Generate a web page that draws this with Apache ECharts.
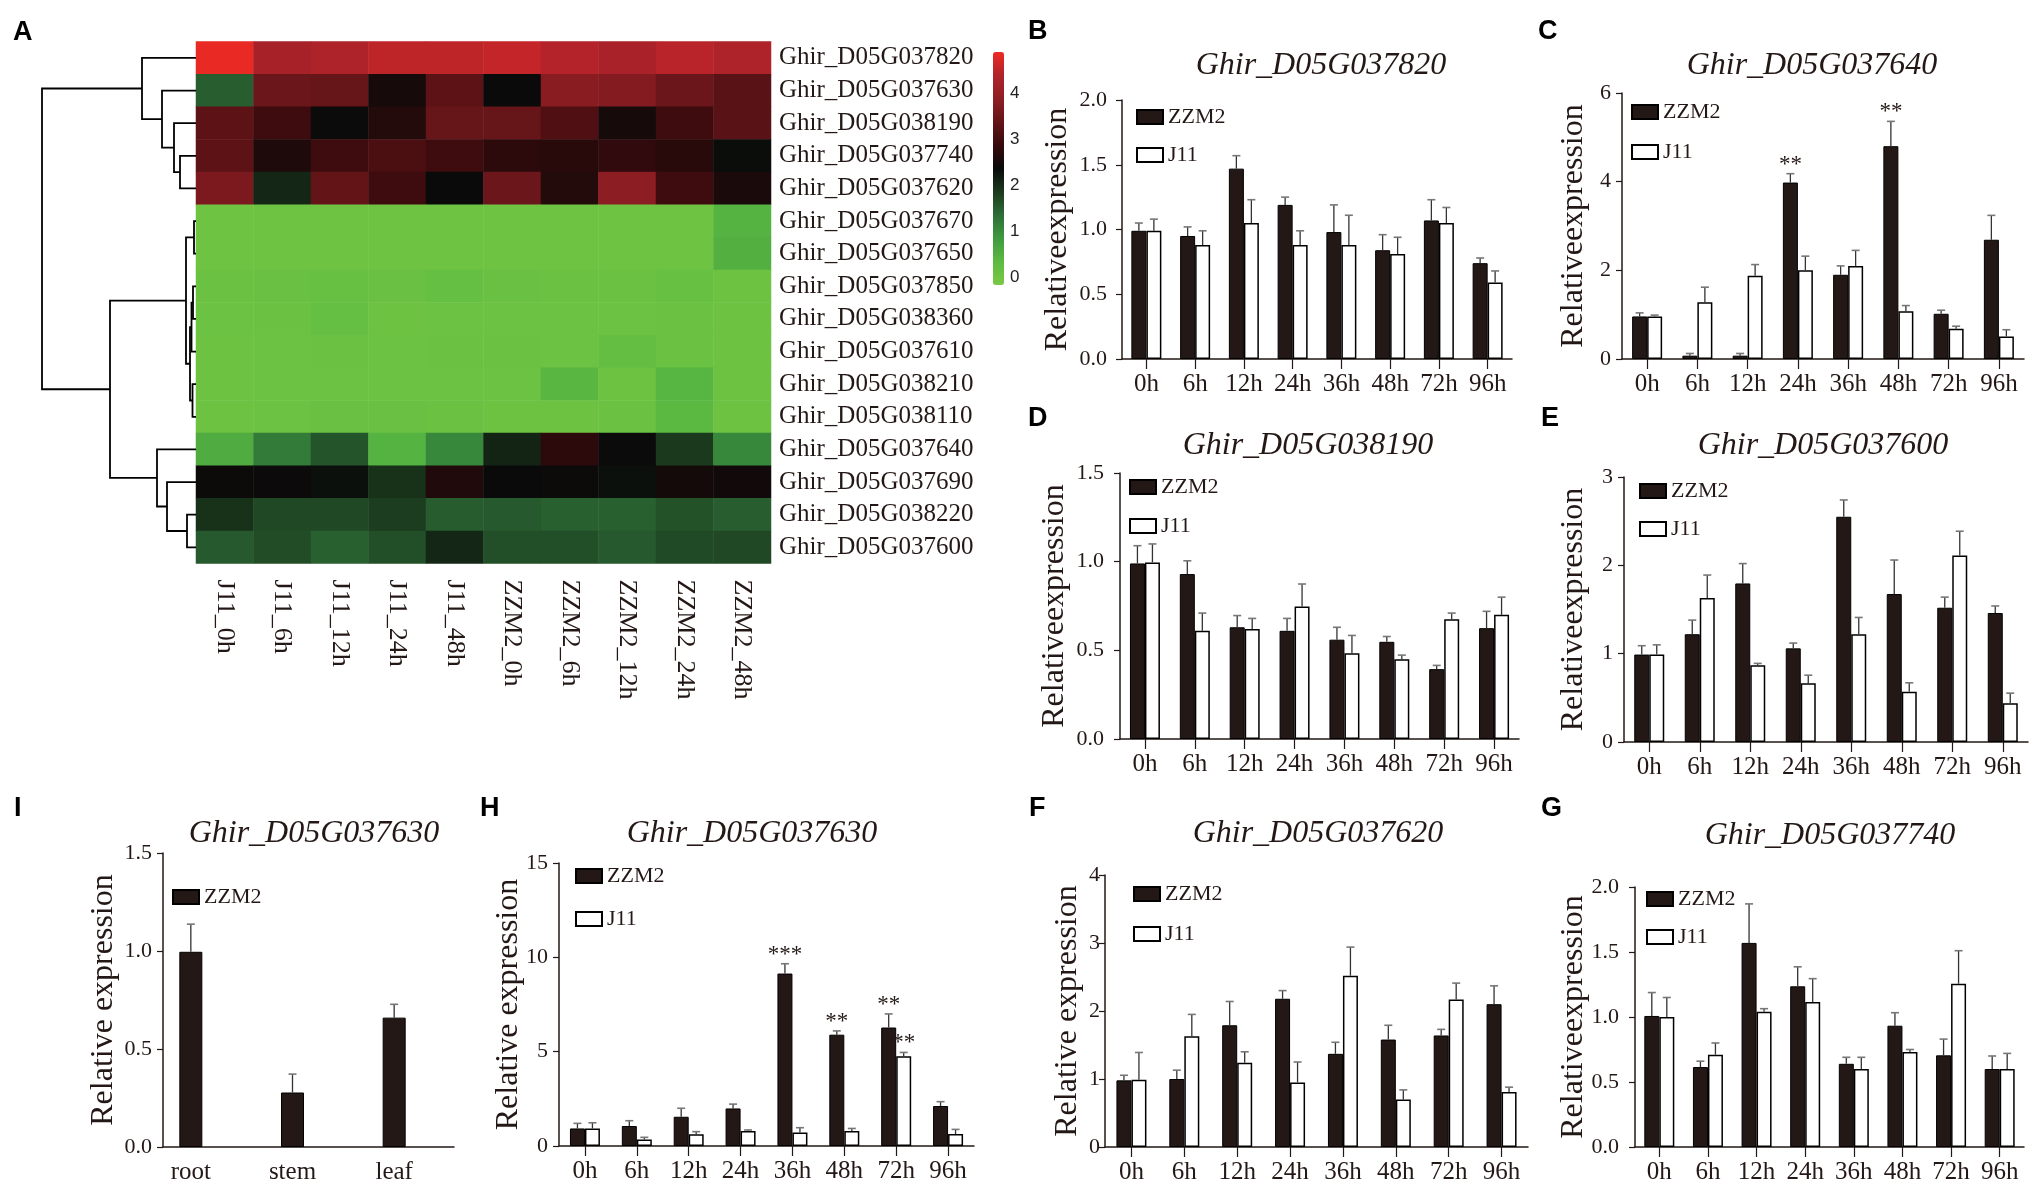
<!DOCTYPE html>
<html>
<head>
<meta charset="utf-8">
<script src="https://cdn.jsdelivr.net/npm/echarts@6/dist/echarts.min.js"></script>
<style>
  html, body { margin: 0; padding: 0; background: #fff; }
  #main { width: 2033px; height: 1187px; }
</style>
</head>
<body>
<div id="main"></div>
<script>
var SERIF = '"Liberation Serif", "Times New Roman", serif';
var SANS = '"Liberation Sans", Arial, sans-serif';
var INK = '#231815';

// ---- heatmap (A) ----
var geneRows = ['Ghir_D05G037820', 'Ghir_D05G037630', 'Ghir_D05G038190', 'Ghir_D05G037740',
  'Ghir_D05G037620', 'Ghir_D05G037670', 'Ghir_D05G037650', 'Ghir_D05G037850',
  'Ghir_D05G038360', 'Ghir_D05G037610', 'Ghir_D05G038210', 'Ghir_D05G038110',
  'Ghir_D05G037640', 'Ghir_D05G037690', 'Ghir_D05G038220', 'Ghir_D05G037600'];
var sampleCols = ['J11_0h', 'J11_6h', 'J11_12h', 'J11_24h', 'J11_48h',
  'ZZM2_0h', 'ZZM2_6h', 'ZZM2_12h', 'ZZM2_24h', 'ZZM2_48h'];
var heatRows = [
  [4.85, 4.25, 4.35, 4.5, 4.5, 4.55, 4.42, 4.3, 4.45, 4.35],
  [1.5, 3.45, 3.4, 2.5, 3.3, 2.36, 3.8, 3.75, 3.45, 3.25],
  [3.3, 2.95, 2.35, 2.65, 3.4, 3.4, 3.15, 2.5, 2.95, 3.25],
  [3.3, 2.6, 2.95, 3.1, 2.95, 2.75, 2.7, 2.8, 2.7, 2.33],
  [3.65, 2.05, 3.35, 2.95, 2.36, 3.45, 2.65, 3.85, 2.95, 2.55],
  [0.02, 0.03, 0.03, 0.02, 0.02, 0.02, 0.03, 0.03, 0.04, 0.45],
  [0.02, 0.03, 0.02, 0.02, 0.03, 0.02, 0.02, 0.02, 0.04, 0.5],
  [0.08, 0.12, 0.15, 0.12, 0.18, 0.12, 0.08, 0.08, 0.15, 0.05],
  [0.06, 0.08, 0.18, 0.05, 0.06, 0.06, 0.06, 0.06, 0.08, 0.05],
  [0.05, 0.06, 0.08, 0.06, 0.08, 0.08, 0.06, 0.2, 0.08, 0.05],
  [0.05, 0.06, 0.06, 0.06, 0.06, 0.06, 0.4, 0.05, 0.42, 0.05],
  [0.05, 0.06, 0.12, 0.12, 0.1, 0.05, 0.05, 0.08, 0.35, 0.05],
  [0.55, 1.2, 1.6, 0.45, 1.05, 2.1, 2.75, 2.35, 1.85, 1.05],
  [2.4, 2.38, 2.3, 1.95, 2.62, 2.36, 2.4, 2.3, 2.48, 2.45],
  [1.95, 1.72, 1.72, 1.82, 1.52, 1.55, 1.48, 1.48, 1.62, 1.5],
  [1.55, 1.68, 1.48, 1.65, 2.05, 1.65, 1.65, 1.55, 1.7, 1.72]
];
var colorTicks = [0, 1, 2, 3, 4];
// row clustering: [childA, childB, height]; 0-15 are rows, 16+ are earlier merges
var dendroMerges = [
  [3, 4, 16], [2, 16, 22], [1, 17, 34], [0, 18, 54],
  [5, 6, 2], [7, 8, 3], [10, 11, 3.5], [21, 9, 4.5], [23, 22, 6], [20, 24, 10],
  [14, 15, 9], [13, 26, 29], [12, 27, 39],
  [25, 28, 86], [19, 29, 154]
];

// ---- qRT-PCR panels ----
var hours = ['0h', '6h', '12h', '24h', '36h', '48h', '72h', '96h'];
var tissues = ['root', 'stem', 'leaf'];

var bZzm2 = [0.99, 0.95, 1.47, 1.19, 0.98, 0.84, 1.07, 0.74];
var bZzm2Sd = [0.06, 0.07, 0.1, 0.06, 0.21, 0.12, 0.16, 0.04];
var bJ11 = [0.99, 0.88, 1.05, 0.88, 0.88, 0.81, 1.05, 0.59];
var bJ11Sd = [0.09, 0.11, 0.18, 0.11, 0.23, 0.13, 0.12, 0.09];

var cZzm2 = [0.96, 0.075, 0.075, 3.98, 1.9, 4.8, 1.02, 2.69];
var cZzm2Sd = [0.08, 0.05, 0.05, 0.2, 0.2, 0.56, 0.08, 0.55];
var cZzm2Sig = ['', '', '', '**', '', '**', '', ''];
var cJ11 = [0.96, 1.28, 1.88, 2.0, 2.1, 1.075, 0.68, 0.51];
var cJ11Sd = [0.03, 0.34, 0.25, 0.32, 0.35, 0.13, 0.06, 0.15];

var dZzm2 = [0.99, 0.93, 0.63, 0.61, 0.56, 0.548, 0.394, 0.625];
var dZzm2Sd = [0.1, 0.075, 0.066, 0.07, 0.07, 0.03, 0.021, 0.095];
var dJ11 = [0.996, 0.61, 0.62, 0.747, 0.484, 0.45, 0.675, 0.7];
var dJ11Sd = [0.104, 0.1, 0.06, 0.127, 0.1, 0.023, 0.035, 0.1];

var eZzm2 = [0.99, 1.22, 1.795, 1.06, 2.55, 1.675, 1.52, 1.46];
var eZzm2Sd = [0.1, 0.16, 0.225, 0.06, 0.19, 0.385, 0.12, 0.08];
var eJ11 = [0.99, 1.63, 0.87, 0.666, 1.22, 0.57, 2.11, 0.44];
var eJ11Sd = [0.11, 0.26, 0.02, 0.09, 0.19, 0.1, 0.276, 0.113];

var iZzm2 = [0.996, 0.278, 0.66];
var iZzm2Sd = [0.141, 0.094, 0.068];

var hZzm2 = [0.93, 1.06, 1.55, 1.99, 9.14, 5.9, 6.28, 2.12];
var hZzm2Sd = [0.27, 0.28, 0.45, 0.23, 0.52, 0.2, 0.72, 0.23];
var hZzm2Sig = ['', '', '', '', '***', '**', '**', ''];
var hJ11 = [0.93, 0.35, 0.62, 0.79, 0.72, 0.79, 4.76, 0.63];
var hJ11Sd = [0.3, 0.11, 0.14, 0.06, 0.25, 0.14, 0.2, 0.25];
var hJ11Sig = ['', '', '', '', '', '', '**', ''];

var fZzm2 = [0.98, 1.0, 1.79, 2.18, 1.37, 1.58, 1.64, 2.1];
var fZzm2Sd = [0.075, 0.13, 0.35, 0.12, 0.17, 0.21, 0.09, 0.27];
var fJ11 = [0.99, 1.63, 1.24, 0.95, 2.52, 0.7, 2.17, 0.81];
var fJ11Sd = [0.4, 0.32, 0.16, 0.3, 0.42, 0.14, 0.24, 0.07];

var gZzm2 = [1.008, 0.615, 1.57, 1.236, 0.64, 0.933, 0.705, 0.6];
var gZzm2Sd = [0.18, 0.045, 0.3, 0.15, 0.05, 0.1, 0.125, 0.1];
var gJ11 = [1.0, 0.71, 1.04, 1.115, 0.6, 0.73, 1.256, 0.6];
var gJ11Sd = [0.15, 0.09, 0.024, 0.18, 0.09, 0.02, 0.254, 0.12];

var grids = [], xAxes = [], yAxes = [], series = [], legends = [], titles = [];

function letter(t, x, y) {
  titles.push({ text: t, left: x, top: y, padding: 0,
    textStyle: { fontFamily: SANS, fontWeight: 'bold', fontSize: 27, color: '#000' } });
}
function geneTitle(t, cx, y) {
  titles.push({ text: t, left: cx, top: y, padding: 0, textAlign: 'center',
    textStyle: { fontFamily: SERIF, fontStyle: 'italic', fontWeight: 'normal', fontSize: 32, color: INK } });
}

// heatmap grid
var heatData = [];
heatRows.forEach(function (row, r) {
  row.forEach(function (v, c) { heatData.push([c, r, v]); });
});
grids.push({ left: 196, top: 41.6, width: 575, height: 522, outerBoundsMode: 'none' });
xAxes.push({ gridIndex: 0, type: 'category', data: sampleCols,
  axisLine: { show: false }, axisTick: { show: false },
  axisLabel: { rotate: -90, interval: 0, margin: 16, fontFamily: SERIF, fontSize: 26, color: INK } });
yAxes.push({ gridIndex: 0, type: 'category', data: geneRows, inverse: true, position: 'right',
  axisLine: { show: false }, axisTick: { show: false },
  axisLabel: { interval: 0, margin: 8, fontFamily: SERIF, fontSize: 25, color: INK } });
series.push({ type: 'heatmap', xAxisIndex: 0, yAxisIndex: 0, data: heatData, silent: true,
  itemStyle: { borderWidth: 0 } });

// dendrogram grid
var nodeY = [], nodeH = [];
geneRows.forEach(function (g, i) { nodeY[i] = i; nodeH[i] = 0; });
var dendroData = dendroMerges.map(function (m, k) {
  var id = geneRows.length + k;
  nodeY[id] = (nodeY[m[0]] + nodeY[m[1]]) / 2;
  nodeH[id] = m[2];
  return [nodeH[m[0]], nodeY[m[0]], nodeH[m[1]], nodeY[m[1]], m[2]];
});
grids.push({ left: 42, top: 41.6, width: 154, height: 522, outerBoundsMode: 'none' });
xAxes.push({ gridIndex: 1, type: 'value', min: 0, max: 154, inverse: true, show: false });
yAxes.push({ gridIndex: 1, type: 'value', min: -0.5, max: geneRows.length - 0.5, inverse: true, show: false });
series.push({ type: 'custom', xAxisIndex: 1, yAxisIndex: 1, data: dendroData, silent: true,
  encode: { x: [0, 2, 4], y: [1, 3] },
  renderItem: function (p, api) {
    var a = api.coord([api.value(0), api.value(1)]);
    var am = api.coord([api.value(4), api.value(1)]);
    var bm = api.coord([api.value(4), api.value(3)]);
    var b = api.coord([api.value(2), api.value(3)]);
    return { type: 'polyline', shape: { points: [a, am, bm, b] },
      style: { stroke: '#000', lineWidth: 1.8, fill: null } };
  } });

// colour bar tick labels
grids.push({ left: 993, top: 52, width: 11, height: 225, outerBoundsMode: 'none' });
xAxes.push({ gridIndex: 2, type: 'value', show: false });
yAxes.push({ gridIndex: 2, type: 'value', position: 'right', min: colorTicks[0], max: 4.89, interval: 1,
  axisLine: { show: false }, axisTick: { show: false }, splitLine: { show: false },
  axisLabel: { margin: 6, fontFamily: SANS, fontSize: 17, color: '#222', showMaxLabel: false,
    formatter: function (v) { return colorTicks.indexOf(v) >= 0 ? String(v) : ''; } } });

letter('A', 13, 19);

function errSeries(gi, mean, sd, sig, dx) {
  series.push({ type: 'custom', xAxisIndex: gi, yAxisIndex: gi, silent: true, z: 4,
    data: mean.map(function (m, i) { return [i, m, m + sd[i]]; }),
    encode: { x: 0, y: [1, 2] },
    renderItem: function (p, api) {
      var base = api.coord([api.value(0), api.value(1)]);
      var top = api.coord([api.value(0), api.value(2)]);
      var x = base[0] + dx;
      var kids = [
        { type: 'line', shape: { x1: x, y1: base[1], x2: x, y2: top[1] },
          style: { stroke: '#333', lineWidth: 1.3 } },
        { type: 'line', shape: { x1: x - 4, y1: top[1], x2: x + 4, y2: top[1] },
          style: { stroke: '#777', lineWidth: 1.6 } }
      ];
      var s = sig ? sig[p.dataIndex] : '';
      if (s) {
        kids.push({ type: 'text', x: x, y: top[1] - 9,
          style: { text: s, fontFamily: SERIF, fontSize: 23, fill: INK, align: 'center', verticalAlign: 'middle' } });
      }
      return { type: 'group', children: kids };
    } });
}

function addPanel(c) {
  var gi = grids.length;
  grids.push({ left: c.left, top: c.top, width: c.width, height: c.height, outerBoundsMode: 'none' });
  xAxes.push({ gridIndex: gi, type: 'category', data: c.cats,
    axisLine: { show: c.xLine !== false, lineStyle: { color: INK, width: 1.5 } },
    axisTick: { show: c.xTicks !== false, alignWithLabel: true, length: 10, lineStyle: { color: INK, width: 1.2 } },
    axisLabel: { interval: 0, margin: 13, fontFamily: SERIF, fontSize: 25, color: INK } });
  yAxes.push({ gridIndex: gi, type: 'value', min: 0, max: c.max, interval: c.step, offset: c.yOffset || 0,
    name: c.yName, nameLocation: 'middle', nameGap: c.nameGap, nameMoveOverlap: false,
    nameTextStyle: { fontFamily: SERIF, fontSize: 32, color: INK },
    axisLine: { show: true, lineStyle: { color: INK, width: 1.5 } },
    axisTick: { show: true, length: 6, lineStyle: { color: INK, width: 1.2 } },
    splitLine: { show: false },
    axisLabel: { margin: c.labelMargin, fontFamily: SERIF, fontSize: 22, color: INK,
      formatter: function (v) { return v.toFixed(c.dec); } } });
  var bw = c.barWidth || 15;
  c.groups.forEach(function (g, k) {
    var dark = g.name === 'ZZM2';
    series.push({ type: 'bar', name: g.name, xAxisIndex: gi, yAxisIndex: gi, data: g.mean,
      barWidth: bw, barGap: '0%', silent: true, z: 2,
      itemStyle: dark ? { color: INK, borderColor: '#000', borderWidth: 1 }
                      : { color: '#fff', borderColor: '#000', borderWidth: 1.5 } });
  });
  c.groups.forEach(function (g, k) {
    var dx = c.groups.length === 1 ? 0 : (k === 0 ? -bw / 2 : bw / 2);
    errSeries(gi, g.mean, g.sd, g.sig, dx);
  });
  legends.push({ left: c.legLeft, top: c.legTop, orient: 'vertical', padding: 0,
    itemGap: c.legGap, itemWidth: 26, itemHeight: 14, icon: 'rect', selectedMode: false,
    data: c.groups.map(function (g) { return g.name; }),
    textStyle: { fontFamily: SERIF, fontSize: 22, color: INK } });
  letter(c.letter[0], c.letter[1], c.letter[2]);
  geneTitle(c.title[0], c.title[1], c.title[2]);
}

addPanel({ left: 1122, top: 100, width: 390, height: 259, max: 2, step: 0.5, dec: 1, cats: hours,
  yName: 'Relativeexpression', nameGap: 48, labelMargin: 15, legLeft: 1136, legTop: 106, legGap: 16,
  letter: ['B', 1028, 18], title: ['Ghir_D05G037820', 1321, 50],
  groups: [{ name: 'ZZM2', mean: bZzm2, sd: bZzm2Sd }, { name: 'J11', mean: bJ11, sd: bJ11Sd }] });

addPanel({ left: 1622, top: 93, width: 402, height: 266, max: 6, step: 2, dec: 0, cats: hours,
  yName: 'Relativeexpression', nameGap: 32, labelMargin: 11, legLeft: 1631, legTop: 101, legGap: 18,
  letter: ['C', 1538, 18], title: ['Ghir_D05G037640', 1812, 50],
  groups: [{ name: 'ZZM2', mean: cZzm2, sd: cZzm2Sd, sig: cZzm2Sig }, { name: 'J11', mean: cJ11, sd: cJ11Sd }] });

addPanel({ left: 1120, top: 473, width: 399, height: 266, max: 1.5, step: 0.5, dec: 1, cats: hours,
  yName: 'Relativeexpression', nameGap: 49, labelMargin: 16, legLeft: 1129, legTop: 476, legGap: 17,
  letter: ['D', 1028, 405], title: ['Ghir_D05G038190', 1308, 430],
  groups: [{ name: 'ZZM2', mean: dZzm2, sd: dZzm2Sd }, { name: 'J11', mean: dJ11, sd: dJ11Sd }] });

addPanel({ left: 1624, top: 477, width: 404, height: 265, max: 3, step: 1, dec: 0, cats: hours,
  yName: 'Relativeexpression', nameGap: 34, labelMargin: 11, legLeft: 1639, legTop: 480, legGap: 16,
  letter: ['E', 1541, 405], title: ['Ghir_D05G037600', 1823, 430],
  groups: [{ name: 'ZZM2', mean: eZzm2, sd: eZzm2Sd }, { name: 'J11', mean: eJ11, sd: eJ11Sd }] });

addPanel({ left: 140, top: 853, width: 305, height: 294, max: 1.5, step: 0.5, dec: 1, cats: tissues,
  yOffset: -23, xLine: false, xTicks: false, barWidth: 23,
  yName: 'Relative expression', nameGap: 43, labelMargin: 11, legLeft: 172, legTop: 886, legGap: 16,
  letter: ['I', 14, 795], title: ['Ghir_D05G037630', 314, 818],
  groups: [{ name: 'ZZM2', mean: iZzm2, sd: iZzm2Sd }] });
// baseline of panel I, spanning from its y axis
grids.push({ left: 163, top: 853, width: 291, height: 294, outerBoundsMode: 'none' });
xAxes.push({ gridIndex: grids.length - 1, type: 'value', axisLine: { show: true, lineStyle: { color: INK, width: 1.5 } },
  axisTick: { show: false }, axisLabel: { show: false }, splitLine: { show: false } });
yAxes.push({ gridIndex: grids.length - 1, type: 'value', show: false });

addPanel({ left: 559, top: 863, width: 415, height: 283, max: 15, step: 5, dec: 0, cats: hours,
  yName: 'Relative expression', nameGap: 34, labelMargin: 11, legLeft: 575, legTop: 865, legGap: 21,
  letter: ['H', 480, 795], title: ['Ghir_D05G037630', 752, 818],
  groups: [{ name: 'ZZM2', mean: hZzm2, sd: hZzm2Sd, sig: hZzm2Sig }, { name: 'J11', mean: hJ11, sd: hJ11Sd, sig: hJ11Sig }] });

addPanel({ left: 1105, top: 875, width: 423, height: 272, max: 4, step: 1, dec: 0, cats: hours,
  yName: 'Relative expression', nameGap: 21, labelMargin: 5, legLeft: 1133, legTop: 883, legGap: 18,
  letter: ['F', 1029, 795], title: ['Ghir_D05G037620', 1318, 818],
  groups: [{ name: 'ZZM2', mean: fZzm2, sd: fZzm2Sd }, { name: 'J11', mean: fJ11, sd: fJ11Sd }] });

addPanel({ left: 1635, top: 887, width: 389, height: 260, max: 2, step: 0.5, dec: 1, cats: hours,
  yName: 'Relativeexpression', nameGap: 45, labelMargin: 16, legLeft: 1646, legTop: 888, legGap: 16,
  letter: ['G', 1541, 795], title: ['Ghir_D05G037740', 1830, 820],
  groups: [{ name: 'ZZM2', mean: gZzm2, sd: gZzm2Sd }, { name: 'J11', mean: gJ11, sd: gJ11Sd }] });

var option = {
  backgroundColor: '#fff',
  animation: false,
  title: titles,
  legend: legends,
  grid: grids,
  xAxis: xAxes,
  yAxis: yAxes,
  visualMap: {
    type: 'continuous', seriesIndex: 0, min: -0.17, max: 4.89,
    calculable: false, hoverLink: false, left: 993, top: 52, padding: 0,
    itemWidth: 11, itemHeight: 233, text: null,
    inRange: { color: ['#7ac943', '#5cba41', '#3f9a3f', '#2d6e37', '#1b3a1d', '#0a0a0a',
      '#360a0c', '#641418', '#8e1e23', '#b0232a', '#ee2a24'] }
  },
  series: series
};

var chart = echarts.init(document.getElementById('main'));
chart.setOption(option);
</script>
</body>
</html>
